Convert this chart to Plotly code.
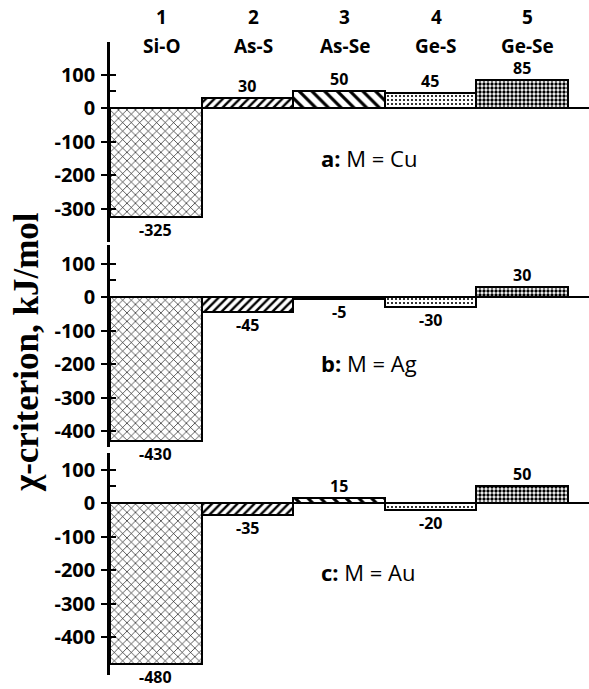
import plotly.graph_objects as go

# ---- data ----
bond_numbers = ["1", "2", "3", "4", "5"]
bonds = ["Si-O", "As-S", "As-Se", "Ge-S", "Ge-Se"]
chi_cu = [-325, 30, 50, 45, 85]
chi_ag = [-430, -45, -5, -30, 30]
chi_au = [-480, -35, 15, -20, 50]
panel_labels = ["<b>a:</b> M = Cu", "<b>b:</b> M = Ag", "<b>c:</b> M = Au"]
tick_vals_a = [100, 0, -100, -200, -300]
tick_vals_bc = [100, 0, -100, -200, -300, -400]
y_title = "χ-criterion, kJ/mol"

# ---- styling ----
W, H = 589, 689
NUM_FONT = "Open Sans"
pat_shapes = ["x", "/", "\\", ".", "."]
pat_sizes = [6, 6, 9, 4, 4]
pat_solid = [0.2, 0.4, 0.35, 0.22, 0.55]

x_pos = list(range(len(bonds)))
x_left_px = 110
x_domain = [x_left_px / W, 1.0]
x_range = [-0.5, 4.735]

px_per_unit = 0.335
# (values, zero_px, top_px, bottom_px, tick values) for each panel
panels = [
    (chi_cu, 108, 42, 242, tick_vals_a),
    (chi_ag, 297, 245, 447, tick_vals_bc),
    (chi_au, 503, 453, 675, tick_vals_bc),
]

fig = go.Figure()
layout = dict(
    template="none",
    width=W, height=H,
    margin=dict(l=0, r=0, t=0, b=0, autoexpand=False),
    paper_bgcolor="white", plot_bgcolor="white",
    bargap=0, showlegend=False,
)

annotations = []
for i, (vals, zero_px, top_px, bot_px, tvals) in enumerate(panels):
    n = i + 1
    xa = "x" if n == 1 else f"x{n}"
    ya = "y" if n == 1 else f"y{n}"
    ov = f"y{n + 3}"
    rng = [-(bot_px - zero_px) / px_per_unit, (zero_px - top_px) / px_per_unit]
    dom = [1 - bot_px / H, 1 - top_px / H]

    fig.add_trace(go.Bar(
        x=x_pos, y=vals, xaxis=xa, yaxis=ya, width=1,
        marker=dict(
            color="white",
            line=dict(color="black", width=2),
            pattern=dict(shape=pat_shapes, size=pat_sizes, solidity=pat_solid,
                         fgcolor="black", bgcolor="white", fillmode="replace"),
        ),
        hoverinfo="skip",
    ))

    # value labels
    for xi, v in zip(x_pos, vals):
        annotations.append(dict(
            text=f"<b>{v}</b>", xref=xa, yref=ya, x=xi, y=v,
            xanchor="center", yanchor="bottom" if v >= 0 else "top",
            yshift=0 if v >= 0 else -1, showarrow=False, borderpad=0,
            font=dict(family=NUM_FONT, size=16, color="black"),
        ))

    xkey = "xaxis" if n == 1 else f"xaxis{n}"
    ykey = "yaxis" if n == 1 else f"yaxis{n}"
    layout[xkey] = dict(domain=x_domain, range=x_range, anchor=ya,
                        visible=False, automargin=False)
    layout[ykey] = dict(
        domain=dom, range=rng, anchor=xa, automargin=False,
        showline=True, linecolor="black", linewidth=2.5,
        zeroline=True, zerolinecolor="black", zerolinewidth=2,
        showgrid=False,
        tickmode="array", tickvals=tvals, ticktext=[str(v) for v in tvals],
        ticks="outside", ticklen=6, tickwidth=1.5, tickcolor="black",
        tickfont=dict(family=NUM_FONT, size=20, color="black", weight="bold"),
        ticklabelstandoff=2,
    )
    inside_vals = [50] + [v for v in tvals if v != 0]
    layout[f"yaxis{n + 3}"] = dict(
        overlaying=ya, anchor=xa, side="left", range=rng, automargin=False,
        showline=False, zeroline=False, showgrid=False,
        tickmode="array", tickvals=inside_vals,
        ticks="inside", ticklen=6, tickwidth=1.5, tickcolor="black",
        showticklabels=False,
    )
    # invisible trace so the overlay axis is drawn
    fig.add_trace(go.Scatter(x=[x_pos[0]], y=[0], xaxis=xa, yaxis=ov,
                             mode="markers", marker=dict(opacity=0),
                             hoverinfo="skip", showlegend=False))

    label_y = [158, 363, 572][i]
    annotations.append(dict(
        text=panel_labels[i], xref="paper", yref="paper",
        x=319 / W, y=1 - label_y / H, xanchor="left", yanchor="middle",
        showarrow=False, font=dict(family=NUM_FONT, size=22, color="black"),
    ))

# header labels above panel a
for xi, num, bond in zip(x_pos, bond_numbers, bonds):
    annotations.append(dict(
        text=f"<b>{num}</b>", xref="x", yref="paper", x=xi, y=1 - 17 / H,
        xshift=6, showarrow=False, yanchor="middle", borderpad=0,
        font=dict(family=NUM_FONT, size=19, color="black"),
    ))
    annotations.append(dict(
        text=f"<b>{bond}</b>", xref="x", yref="paper", x=xi, y=1 - 46 / H,
        xshift=6, showarrow=False, yanchor="middle", borderpad=0,
        font=dict(family=NUM_FONT, size=19, color="black"),
    ))

annotations.append(dict(
    text=f"<b>{y_title}</b>", xref="paper", yref="paper",
    x=26 / W, y=1 - 352 / H, textangle=-90, showarrow=False,
    xanchor="center", yanchor="middle",
    font=dict(family="Liberation Serif", size=35, color="black"),
))

layout["annotations"] = annotations
fig.update_layout(**layout)
fig.write_html(
    "out.html",
    config={"displayModeBar": False},
    post_script="document.body.style.margin='0';document.body.style.padding='0';",
)
